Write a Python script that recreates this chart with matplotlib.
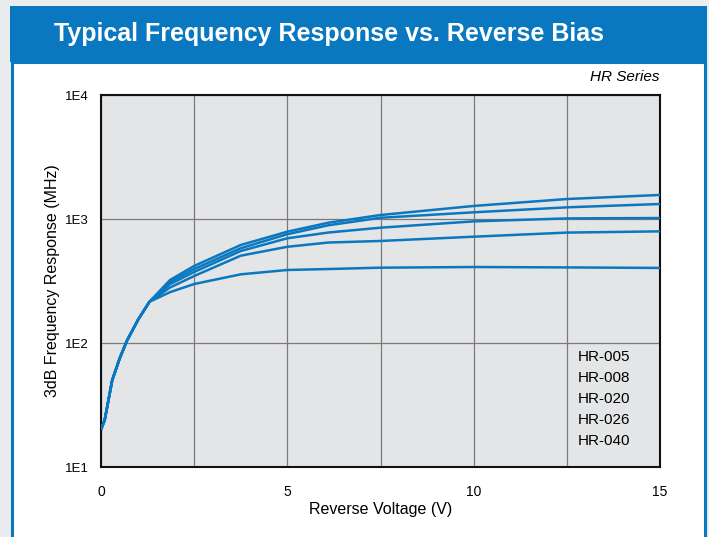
import matplotlib
matplotlib.use('Agg')
import matplotlib.pyplot as plt
from matplotlib.patches import Rectangle

# -- data (MHz vs reverse volts)
volts = [0, 0.1, 0.3, 0.5, 0.7, 1.0, 1.3, 1.85, 2.5, 3.75, 5, 6.1, 7.5, 10, 12.5, 15]
resp_a = [20, 24, 50, 75, 105, 155, 215, 322, 418, 617, 790, 933, 1077, 1274, 1449, 1563]
resp_b = [20, 24, 50, 75, 105, 155, 215, 310, 395, 581, 754, 890, 1023, 1132, 1242, 1321]
resp_c = [20, 24, 50, 75, 105, 155, 215, 298, 374, 552, 699, 778, 851, 957, 1011, 1018]
resp_d = [20, 24, 50, 75, 105, 155, 215, 280, 347, 506, 597, 646, 665, 720, 777, 795]
resp_e = [20, 24, 50, 75, 105, 155, 215, 257, 299, 358, 388, 395, 405, 410, 407, 403]
series_names = ['HR-005', 'HR-008', 'HR-020', 'HR-026', 'HR-040']

x_ticks = [0, 2.5, 5, 7.5, 10, 12.5, 15]
x_labels = ['0', '', '5', '', '10', '', '15']
y_ticks = [10, 100, 1000, 10000]
y_labels = ['1E1', '1E2', '1E3', '1E4']

blue = '#0a78c0'
W, H = 709, 537
sans = ['Liberation Sans', 'DejaVu Sans']

fig = plt.figure(figsize=(W / 100, H / 100), dpi=100)
fig.patch.set_facecolor('#e9edf0')

#-- pannelli di sfondo
fig.patches.append(Rectangle((12 / W, -0.05), 693 / W, (H - 62) / H + 0.05, transform=fig.transFigure,
                             facecolor='white', edgecolor=blue, linewidth=2.2, zorder=-3))
fig.patches.append(Rectangle((10 / W, (H - 62) / H), 697 / W, 56 / H, transform=fig.transFigure,
                             facecolor=blue, edgecolor='none', zorder=-2))
fig.text(54 / W, (H - 34) / H, 'Typical Frequency Response vs. Reverse Bias', color='white',
         fontsize=18, fontweight='bold', family=sans, va='center', ha='left')
#--

ax = fig.add_axes([101 / W, (H - 467) / H, 559 / W, 372 / H])
ax.set_facecolor('#e4e5e7')

for y in [resp_a, resp_b, resp_c, resp_d, resp_e]:
    ax.plot(volts, y, color=blue, linewidth=1.8, solid_capstyle='butt', zorder=3)

ax.set_yscale('log')
ax.set_xlim(0, 15)
ax.set_ylim(10, 10000)
ax.set_xticks(x_ticks)
ax.set_xticklabels(x_labels, family=sans, fontsize=10)
ax.set_yticks(y_ticks)
ax.set_yticklabels(y_labels, family=sans, fontsize=9.5)
ax.yaxis.set_minor_locator(matplotlib.ticker.NullLocator())
ax.tick_params(axis='both', length=0)
ax.tick_params(axis='x', pad=13)
ax.tick_params(axis='y', pad=9)
ax.grid(True, color='#7a7a7a', linewidth=0.9, zorder=1)
ax.set_axisbelow(True)
for s in ax.spines.values():
    s.set_linewidth(1.5)
    s.set_color('#111111')

ax.set_xlabel('Reverse Voltage (V)', family=sans, fontsize=11.5, labelpad=2)
ax.set_ylabel('3dB Frequency Response (MHz)', family=sans, fontsize=11.5, labelpad=3)

ax.text(1.0, 1.03, 'HR Series', transform=ax.transAxes, ha='right', va='bottom',
        family=sans, fontstyle='italic', fontsize=11)

#-- etichette serie
for i, name in enumerate(series_names):
    ax.text((578 - 101) / 559, 1 - (357 - 95 + i * 21) / 372, name, transform=ax.transAxes,
            ha='left', va='center', family=sans, fontsize=11)
#--

fig.savefig('out.png', dpi=100, facecolor=fig.get_facecolor())
